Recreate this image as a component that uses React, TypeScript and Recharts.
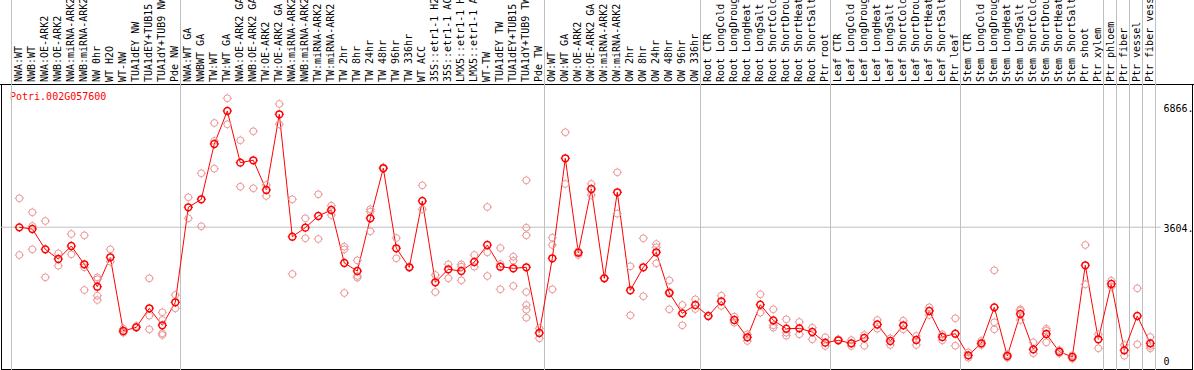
import React from 'react';
import { ComposedChart, Line, Scatter, XAxis, YAxis, ReferenceLine } from 'recharts';

// sample labels, left to right
const labels = [
  'NWA:WT', 'NWB:WT', 'NWA:OE-ARK2', 'NWB:OE-ARK2', 'NWA:miRNA-ARK2', 'NWB:miRNA-ARK2', 'NW 0hr', 'WT H2O', 'WT-NW',
  'TUA1dEY NW', 'TUA1dEY+TUB15 NW', 'TUA1dY+TUB9 NW', 'Pde NW',
  'NWA:WT GA', 'NWBWT GA', 'TW:WT', 'TW:WT GA', 'NWA:OE-ARK2 GA', 'NWB:OE-ARK2 GA', 'TW:OE-ARK2', 'TW:OE-ARK2 GA',
  'NWA:miRNA-ARK2', 'NWB:miRNA-ARK2', 'TW:miRNA-ARK2', 'TW:miRNA-ARK2', 'TW 2hr', 'TW 8hr', 'TW 24hr', 'TW 48hr',
  'TW 96hr', 'TW 336hr', 'WT ACC', '35S::etr1-1 H2O', '35S::etr1-1 ACC', 'LMX5::etr1-1 H2O', 'LMX5::etr1-1 ACC',
  'WT-TW', 'TUA1dEY TW', 'TUA1dEY+TUB15 TW', 'TUA1dY+TUB9 TW', 'Pde TW',
  'OW:WT', 'OW:WT GA', 'OW:OE-ARK2', 'OW:OE-ARK2 GA', 'OW:miRNA-ARK2', 'OW:miRNA-ARK2', 'OW 2hr', 'OW 8hr',
  'OW 24hr', 'OW 48hr', 'OW 96hr', 'OW 336hr',
  'Root CTR', 'Root LongCold', 'Root LongDrought', 'Root LongHeat', 'Root LongSalt', 'Root ShortCold',
  'Root ShortDrought', 'Root ShortHeat', 'Root ShortSalt', 'Ptr root',
  'Leaf CTR', 'Leaf LongCold', 'Leaf LongDrought', 'Leaf LongHeat', 'Leaf LongSalt', 'Leaf ShortCold',
  'Leaf ShortDrought', 'Leaf ShortHeat', 'Leaf ShortSalt', 'Ptr leaf',
  'Stem CTR', 'Stem LongCold', 'Stem LongDrought', 'Stem LongHeat', 'Stem LongSalt', 'Stem ShortCold',
  'Stem ShortDrought', 'Stem ShortHeat', 'Stem ShortSalt', 'Ptr shoot', 'Ptr xylem',
  'Ptr phloem', 'Ptr fiber', 'Ptr vessel', 'Ptr fiber vessel',
];

// mean expression per sample
const means = [
  3601, 3555, 3004, 2741, 3094, 2597, 1989, 2787, 787, 887, 1403, 942, 1566,
  4144, 4361, 5862, 6758, 5355, 5420, 4614, 6668, 3346, 3591, 3908, 4071, 2633, 2415, 3846, 5203,
  3032, 2516, 4315, 2109, 2462, 2415, 2660, 3121, 2532, 2489, 2516, 733,
  2760, 5474, 2912, 4641, 2217, 4551, 1892, 2516, 2923, 1818, 1267, 1493,
  1194, 1593, 1086, 616, 1501, 1077, 849, 860, 760, 470,
  535, 453, 597, 963, 516, 942, 543, 1330, 624, 714,
  128, 453, 1430, 109, 1248, 290, 706, 225, 81, 2570, 562,
  2063, 263, 1194, 453,
];

// individual replicates per sample
const reps = [
  [4389, 2850], [4009, 3637, 3004], [3772, 2244], [2896, 2559], [3420, 2869], [3384, 2516, 1900],
  [2244, 2190, 1745, 1628], [3004, 2668], [741, 849], [923], [2217, 1202, 833], [1295, 1086, 725, 679], [1764, 1403],
  [4416, 3846], [5067, 3629], [6432, 5944, 5192], [7103, 6397], [5963, 4703], [6207, 4660], [4750, 4451],
  [6948, 6397], [4361, 2334], [3846, 3303], [4497, 3284], [4188, 3935], [3075, 3004, 1818], [2706, 2280, 2234],
  [4090, 4025, 3493], [5230], [3311, 2760], [2532], [4741, 4090], [2307, 1846], [2597, 2217], [2597, 2532, 2163],
  [2850, 2532], [4152, 2923, 2280], [3040, 2605, 1919], [2804, 2695, 2008],
  [4877, 3591, 3384, 1846, 1493, 1365, 1148], [860, 589],
  [3319, 3121, 1919], [6180, 4777], [2950, 2850], [4777, 4478], [2234], [5094, 3971], [2543, 1213], [3303, 1729],
  [3148, 3059, 2624], [2163, 1854, 1376], [1493, 942], [1647, 1384],
  [1194], [1745, 1466], [1175, 1012], [697, 516], [1783, 1284], [1376, 942, 877], [1105, 741, 660], [1031, 697],
  [877, 562], [616, 380],
  [562], [543, 380], [679, 388], [1086, 849], [589, 407], [1067, 833], [651, 407], [1430, 1221], [697, 535],
  [1132, 388],
  [209, 62], [516, 407], [2434, 1023, 833], [155, 62], [1376, 1338, 1086], [480, 182], [849, 795, 480],
  [271, 182], [128, 35], [3121, 2054], [697, 318],
  [2152, 1989], [407, 117], [1946, 426], [624, 380, 318],
];

// first sample index of each group, plus the end
const groupStarts = [0, 13, 41, 53, 63, 73, 84, 85, 86, 87, 88];
const yTicks = [0, 3604, 6866];

const rows = means.map((m, i) => ({ i, mean: m }));
const repRows = reps.flatMap((vals, i) => vals.map((v) => ({ i, v })));

const mono = "'DejaVu Sans Mono', monospace";
const X0 = -0.6;

const Mark = ({ cx, cy, color, r, sw }: any) => {
  if (cx == null || cy == null) return null;
  const o = r + 1.2;
  return (
    <g>
      <circle cx={cx} cy={cy} r={r} fill="none" stroke={color} strokeWidth={sw} />
      <path
        d={`M${cx},${cy - o}v1.2M${cx},${cy + r}v1.2M${cx - o},${cy}h1.2M${cx + r},${cy}h1.2`}
        stroke={color}
        strokeWidth={1}
      />
    </g>
  );
};

const TopTick = (props: any) => {
  const { x, y, payload } = props;
  return (
    <text
      transform={`translate(${x - 1},${y}) rotate(-90)`}
      dy="0.35em"
      fontFamily={mono}
      fontSize={10}
      fill="#000"
      textAnchor="start"
    >
      {labels[payload.value]}
    </text>
  );
};

const RightTick = (props: any) => {
  const { x, y, payload } = props;
  return (
    <text x={x} y={y} dy="0.5em" fontFamily={mono} fontSize={10} fill="#000" textAnchor="start">
      {payload.value === 0 ? '0' : `${payload.value}.`}
    </text>
  );
};

export default function App() {
  return (
    <div style={{ position: 'absolute', left: 0, top: 0, width: 1194, height: 370, background: '#fff' }}>
      <div
        style={{
          position: 'absolute', left: 1, top: 84, width: 1192, height: 286,
          border: '1px solid #000', boxSizing: 'border-box',
        }}
      />
      <div style={{ position: 'absolute', left: 0, top: 84, width: 1194, height: 1, background: '#000' }} />
      <div
        style={{
          position: 'absolute', left: 10, top: 91, fontFamily: mono, fontSize: 10,
          color: '#ff0000', lineHeight: '12px',
        }}
      >
        Potri.002G057600
      </div>
      <div style={{ position: 'absolute', left: 0, top: 0 }}>
        <ComposedChart width={1194} height={370} data={rows} margin={{ top: 0, right: 0, bottom: 1, left: 11.5 }}>
          <XAxis
            xAxisId={0}
            orientation="top"
            type="number"
            dataKey="i"
            domain={[X0, X0 + 88]}
            allowDataOverflow
            ticks={means.map((_, i) => i)}
            interval={0}
            height={84}
            tickSize={0}
            tickMargin={2}
            tickLine={false}
            axisLine={false}
            tick={<TopTick />}
          />
          <YAxis
            orientation="right"
            type="number"
            domain={[-244, 7490]}
            allowDataOverflow
            ticks={yTicks}
            width={38.5}
            tickLine={false}
            axisLine={false}
            tick={<RightTick />}
          />
          {groupStarts.map((k) => (
            <ReferenceLine
              key={k}
              segment={[{ x: X0 + k, y: 9800 }, { x: X0 + k, y: -300 }]}
              ifOverflow="visible"
              stroke="#c0c0c0"
              strokeWidth={1}
            />
          ))}
          <ReferenceLine
            segment={[{ x: X0 - 0.8, y: 3604 }, { x: X0 + 88.4, y: 3604 }]}
            ifOverflow="visible"
            stroke="#c0c0c0"
            strokeWidth={1}
          />
          <Scatter
            data={repRows}
            dataKey="v"
            isAnimationActive={false}
            shape={(p: any) => <Mark cx={p.cx} cy={p.cy} color="#eb9696" r={3.4} sw={1} />}
          />
          <Line
            type="linear"
            dataKey="mean"
            stroke="#ff0000"
            strokeWidth={1}
            isAnimationActive={false}
            activeDot={false}
            dot={(p: any) => <Mark key={p.index} cx={p.cx} cy={p.cy} color="#ff0000" r={3.4} sw={1.5} />}
          />
        </ComposedChart>
      </div>
    </div>
  );
}
